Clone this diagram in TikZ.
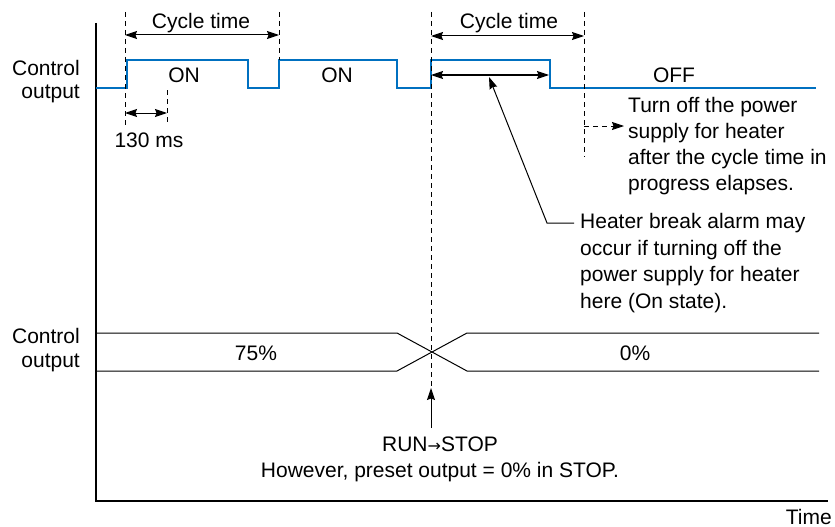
\documentclass[tikz,border=0pt]{standalone}
\usepackage{fontspec}
\setmainfont{Liberation Sans}
\newfontfamily\arrowfont{DejaVu Sans}
\usetikzlibrary{arrows.meta}
\definecolor{sigblue}{RGB}{0,112,192}
\begin{document}
\begin{tikzpicture}[x=1pt,y=-1pt,
  lbl/.style={inner sep=0pt, font=\fontsize{21}{26}\selectfont},
  axisline/.style={line width=1.3pt},
  wave/.style={sigblue, line width=2.8pt},
  guide/.style={dash pattern=on 5pt off 4pt, line width=0.9pt},
  tipA/.style={-{Stealth[length=12pt,width=8pt,inset=1.5pt]}},
  dim/.style={line width=1pt, {Stealth[length=12pt,width=8pt,inset=1.5pt]}-{Stealth[length=12pt,width=8pt,inset=1.5pt]}},
  thinline/.style={line width=1pt}]
\useasboundingbox (0,0) rectangle (835,527);

% axes
\coordinate (ytop) at (96,23);
\coordinate (orig) at (96,501);
\coordinate (xend) at (828,501);
\draw[axisline] (ytop) -- (orig) -- (xend);

% control output waveform
\draw[wave] (96,88) -| (127,60) -| (248,88) -| (279,60) -| (397,88) -| (431,60) -| (550,88) -- (816,88);

% dashed guides
\coordinate (g1t) at (125,12);  \coordinate (g1b) at (125,127);
\coordinate (g2t) at (279,12);  \coordinate (g2b) at (279,60);
\coordinate (g3t) at (167,90);  \coordinate (g3b) at (167,125);
\coordinate (g4t) at (431,12);  \coordinate (g4b) at (431,388);
\coordinate (g5t) at (584,12);  \coordinate (g5b) at (584,157);
\draw[guide] (g1t) -- (g1b);
\draw[guide] (g2t) -- (g2b);
\draw[guide] (g3t) -- (g3b);
\draw[guide] (g4t) -- (g4b);
\draw[guide] (g5t) -- (g5b);

% dimension arrows
\coordinate (c1a) at (125,35); \coordinate (c1b) at (279,35);
\coordinate (c2a) at (431,36); \coordinate (c2b) at (584,36);
\coordinate (m1a) at (125,113); \coordinate (m1b) at (167,113);
\coordinate (onA) at (431,75); \coordinate (onB) at (549,75);
\draw[dim] (c1a) -- (c1b);
\draw[dim] (c2a) -- (c2b);
\draw[dim] (m1a) -- (m1b);
\draw[dim] (onA) -- (onB);

% labels top
\node[lbl, anchor=base] (cyc1) at (201,29) {Cycle time};
\node[lbl, anchor=base] (cyc2) at (509,29) {Cycle time};
\node[lbl, anchor=base] (on1) at (184,82) {ON};
\node[lbl, anchor=base] (on2) at (337,82) {ON};
\node[lbl, anchor=base] (off) at (674,82) {OFF};
\node[lbl, anchor=base] (ms) at (149,147) {130 ms};
\node[lbl, anchor=base east] (co1) at (80,76) {Control};
\node[lbl, anchor=base east] (op1) at (80,99) {output};

% turn-off note
\coordinate (dsrc) at (584,126);
\node[lbl, anchor=north west, align=left] (turnoff) at (628,97)
  {Turn off the power\\supply for heater\\after the cycle time in\\progress elapses.};
\coordinate (dtip) at (624,126);
\draw[guide, tipA] (dsrc) -- (dtip);

% heater break note
\node[lbl, anchor=north west, align=left, font=\fontsize{21}{26.6}\selectfont] (heater) at (580,213)
  {Heater break alarm may\\occur if turning off the\\power supply for heater\\here (On state).};
\coordinate (hk) at (547,223);
\coordinate (hs) at (574,223);
\coordinate (htip) at (489,77);
\draw[thinline, tipA] (hs) -- (hk) -- (htip);

% lower control output
\node[lbl, anchor=base east] (co2) at (80,343) {Control};
\node[lbl, anchor=base east] (op2) at (80,367) {output};
\draw[thinline] (96,333) -- (397,333) -- (467,371) -- (819,371);
\draw[thinline] (96,371) -- (397,371) -- (467,333) -- (819,333);
\node[lbl, anchor=base] (p75) at (256,360) {75\%};
\node[lbl, anchor=base] (p0) at (635,360) {0\%};

% run-stop
\coordinate (rsb) at (431,428);
\draw[thinline, tipA] (rsb) -- (g4b);
\node[lbl, anchor=base] (runstop) at (440,451) {RUN{\arrowfont\fontsize{16}{16}\selectfont →}STOP};
\node[lbl, anchor=base] (however) at (440,477) {However, preset output = 0\% in STOP.};

\node[lbl, anchor=base east] (time) at (832,524) {Time};
\end{tikzpicture}
\end{document}
